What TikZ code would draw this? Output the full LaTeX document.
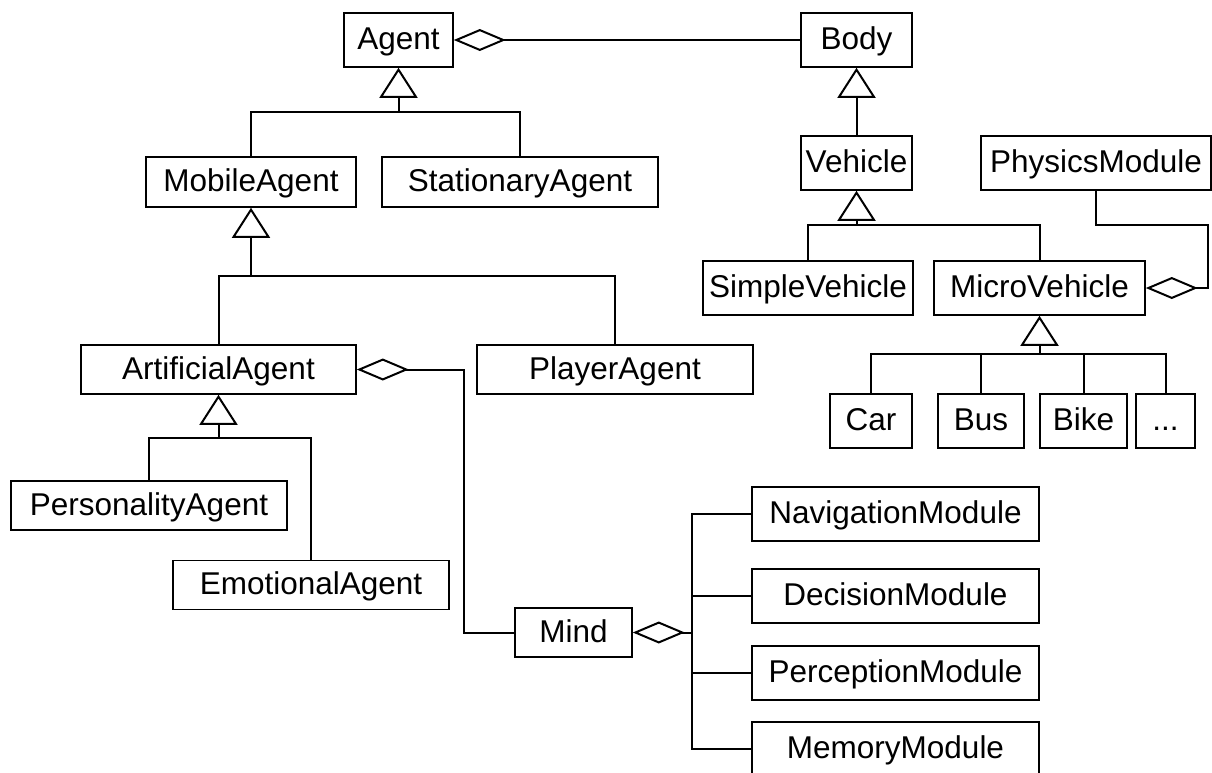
\documentclass[tikz,border=0pt]{standalone}
\usepackage{fontspec}
\setmainfont{Liberation Sans}
\usetikzlibrary{arrows.meta}
\tikzset{
  cls/.style={draw, line width=1.6pt, inner sep=0pt, text height=23pt, text depth=4pt,
    font=\fontsize{31.5}{36}\selectfont, minimum height=54pt},
  lo/.style={minimum height=49pt},
  conn/.style={line width=2pt},
  gen/.style={conn, -{Triangle[open, length=30pt, width=38pt, line width=2pt]}},
  agg/.style={conn, {Diamond[open, length=52pt, width=22pt, line width=2pt]}-},
}
\begin{document}
\begin{tikzpicture}[x=1pt, y=-1pt]
\clip (0,0) rectangle (1212,772);
\fill[white] (0,0) rectangle (1212,772);
% nodes
\node[cls, minimum width=109pt] (Agent) at (398.5,40) {Agent};
\node[cls, minimum width=111pt] (Body) at (856.5,40) {Body};
\node[cls, lo, minimum width=210pt, minimum height=50pt] (Mobile) at (251,182) {MobileAgent};
\node[cls, lo, minimum width=276pt, minimum height=50pt] (Stationary) at (520,182) {StationaryAgent};
\node[cls, lo, minimum width=275pt] (Artificial) at (218.5,369.5) {ArtificialAgent};
\node[cls, lo, minimum width=276pt] (Player) at (615,369.5) {PlayerAgent};
\node[cls, lo, minimum width=276pt] (Personality) at (149,505.5) {PersonalityAgent};
\node[cls, lo, minimum width=276pt] (Emotional) at (311,585) {EmotionalAgent};
\node[cls, lo, minimum width=117pt] (Mind) at (573.5,632.5) {Mind};
\node[cls, minimum width=111pt] (Vehicle) at (856.5,163) {Vehicle};
\node[cls, minimum width=230pt] (Physics) at (1096,163) {PhysicsModule};
\node[cls, minimum width=210pt] (Simple) at (808,288) {SimpleVehicle};
\node[cls, minimum width=211pt] (Micro) at (1039.5,288) {MicroVehicle};
\node[cls, minimum width=82pt] (Car) at (871,421) {Car};
\node[cls, minimum width=86pt] (Bus) at (981,421) {Bus};
\node[cls, minimum width=87pt] (Bike) at (1083.5,421) {Bike};
\node[cls, minimum width=59pt] (Etc) at (1165.5,421) {...};
\node[cls, minimum width=287pt] (Nav) at (895.5,514) {NavigationModule};
\node[cls, minimum width=287pt] (Dec) at (895.5,596) {DecisionModule};
\node[cls, minimum width=287pt] (Per) at (895.5,673) {PerceptionModule};
\node[cls, minimum width=287pt] (Mem) at (895.5,749) {MemoryModule};
% junction coordinates
\coordinate (jA) at (398.5,112);
\coordinate (jM) at (251,276);
\coordinate (jAr) at (218.5,438);
\coordinate (jV) at (856.5,225);
\coordinate (jMi) at (1039.5,354);
\coordinate (pR) at (1208,225);
\coordinate (aR) at (464,369.5);
\coordinate (mb) at (692,632.5);
% aggregations
\draw[agg] (Agent.east) -- (Body.west);
\draw[agg] (Micro.east) -| (pR) -| (Physics.south);
\draw[agg] (Artificial.east) -- (aR) |- (Mind.west);
\draw[agg] (Mind.east) -- (mb);
\draw[conn] (Nav.west) -| (mb) |- (Mem.west);
\draw[conn] (Dec.west) -- (Dec.west -| mb);
\draw[conn] (Per.west) -- (Per.west -| mb);
% generalizations
\draw[gen] (jA) -- (Agent.south);
\draw[conn] (Mobile.north) |- (jA) -| (Stationary.north);
\draw[gen] (Vehicle.north) -- (Body.south);
\draw[gen] (jM) -- (Mobile.south);
\draw[conn] (Artificial.north) |- (jM) -| (Player.north);
\draw[gen] (jAr) -- (Artificial.south);
\draw[conn] (Personality.north) |- (jAr) -| (Emotional.north);
\draw[gen] (jV) -- (Vehicle.south);
\draw[conn] (Simple.north) |- (jV) -| (Micro.north);
\draw[gen] (jMi) -- (Micro.south);
\draw[conn] (Car.north) |- (jMi) -| (Etc.north);
\draw[conn] (Bus.north) -- (Bus.north |- jMi);
\draw[conn] (Bike.north) -- (Bike.north |- jMi);
\end{tikzpicture}
\end{document}
